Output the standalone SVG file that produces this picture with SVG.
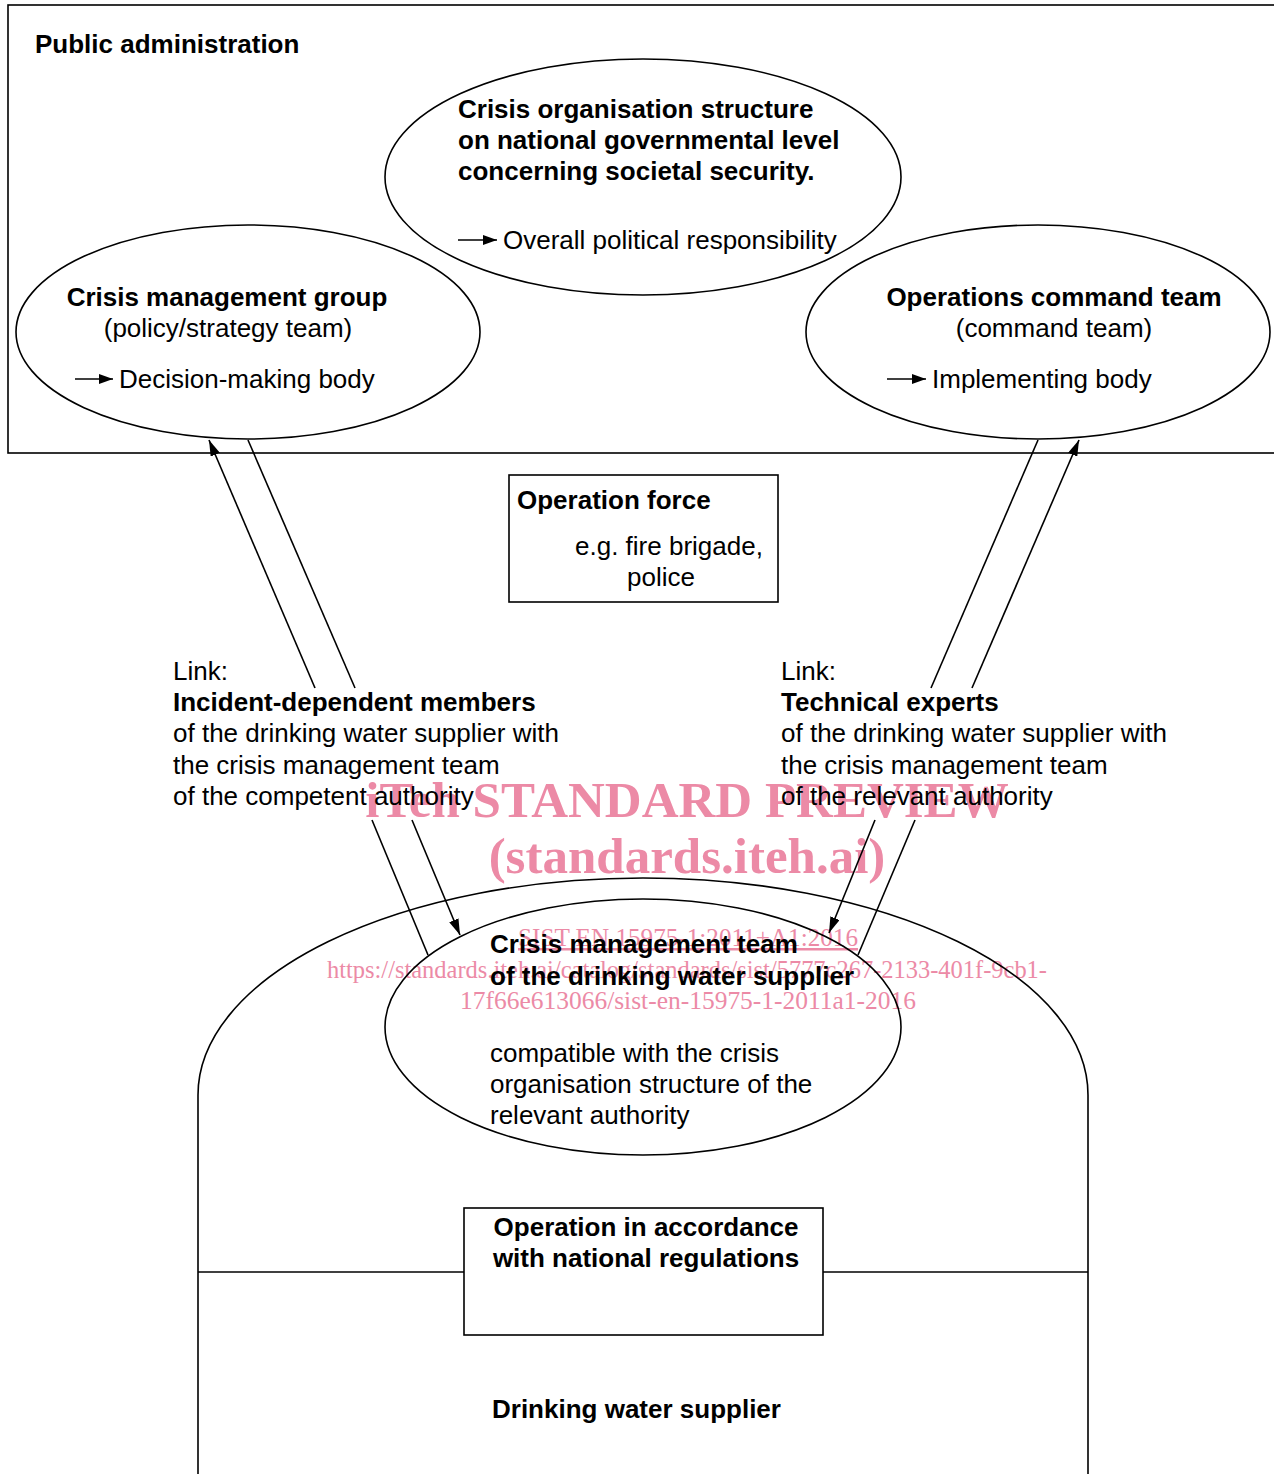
<svg xmlns="http://www.w3.org/2000/svg" width="1274" height="1474" viewBox="0 0 1274 1474">
<defs>
<style>
.s{fill:none;stroke:#000;stroke-width:1.6}
.t{font-family:"Liberation Sans",Arial,sans-serif;font-size:26px;fill:#000}
.b{font-weight:bold}
.m{text-anchor:middle}
.wm{font-family:"Liberation Serif","Times New Roman",serif;fill:#ec8aa6;text-anchor:middle}
</style>
<marker id="ah" viewBox="0 0 16 10" refX="16" refY="5" markerWidth="16" markerHeight="10" markerUnits="userSpaceOnUse" orient="auto">
<path d="M0,0 L16,5 L0,10 z" fill="#000"/>
</marker>
<marker id="sa" viewBox="0 0 14 10" refX="14" refY="5" markerWidth="14" markerHeight="10" markerUnits="userSpaceOnUse" orient="auto">
<path d="M0,0 L14,5 L0,10 z" fill="#000"/>
</marker>
</defs>
<rect width="1274" height="1474" fill="#fff"/>

<g id="watermark">
<text class="wm" x="687" y="817" font-size="51" font-weight="bold">iTeh STANDARD PREVIEW</text>
<text class="wm" x="687" y="873" font-size="51" font-weight="bold">(standards.iteh.ai)</text>
<text class="wm" x="688" y="946" font-size="25" text-decoration="underline" textLength="340" lengthAdjust="spacingAndGlyphs">SIST EN 15975-1:2011+A1:2016</text>
<text class="wm" x="687" y="978" font-size="25" textLength="720" lengthAdjust="spacingAndGlyphs">https://standards.iteh.ai/catalog/standards/sist/5777c267-2133-401f-9cb1-</text>
<text class="wm" x="688" y="1009" font-size="25" textLength="456" lengthAdjust="spacingAndGlyphs">17f66e613066/sist-en-15975-1-2011a1-2016</text>
</g>

<g id="public-administration">
<rect class="s" x="8" y="5" width="1280" height="448"/>
<text class="t b" x="35" y="53">Public administration</text>
</g>

<g id="crisis-organisation">
<ellipse class="s" cx="643" cy="177" rx="258" ry="118"/>
<text class="t b" x="458" y="118">Crisis organisation structure</text>
<text class="t b" x="458" y="149">on national governmental level</text>
<text class="t b" x="458" y="180">concerning societal security.</text>
<line class="s" x1="458" y1="240" x2="497" y2="240" marker-end="url(#sa)"/>
<text class="t" x="503" y="249">Overall political responsibility</text>
</g>

<g id="crisis-management-group">
<ellipse class="s" cx="248" cy="332" rx="232" ry="107"/>
<text class="t b m" x="227" y="306">Crisis management group</text>
<text class="t m" x="228" y="337">(policy/strategy team)</text>
<line class="s" x1="75" y1="379" x2="113" y2="379" marker-end="url(#sa)"/>
<text class="t" x="119" y="388">Decision-making body</text>
</g>

<g id="operations-command-team">
<ellipse class="s" cx="1038" cy="332" rx="232" ry="107"/>
<text class="t b m" x="1054" y="306">Operations command team</text>
<text class="t m" x="1054" y="337">(command team)</text>
<line class="s" x1="887" y1="379" x2="926" y2="379" marker-end="url(#sa)"/>
<text class="t" x="932" y="388">Implementing body</text>
</g>

<g id="operation-force">
<rect class="s" x="509" y="475" width="269" height="127"/>
<text class="t b" x="517" y="509">Operation force</text>
<text class="t" x="575" y="555">e.g. fire brigade,</text>
<text class="t" x="627" y="586">police</text>
</g>

<g id="link-left">
<text class="t" x="173" y="680">Link:</text>
<text class="t b" x="173" y="711">Incident-dependent members</text>
<text class="t" x="173" y="742">of the drinking water supplier with</text>
<text class="t" x="173" y="774">the crisis management team</text>
<text class="t" x="173" y="805">of the competent authority</text>
</g>

<g id="link-right">
<text class="t" x="781" y="680">Link:</text>
<text class="t b" x="781" y="711">Technical experts</text>
<text class="t" x="781" y="742">of the drinking water supplier with</text>
<text class="t" x="781" y="774">the crisis management team</text>
<text class="t" x="781" y="805">of the relevant authority</text>
</g>

<g id="drinking-water-supplier">
<path class="s" d="M198,1474 L198,1095 A445,217 0 0 1 1088,1095 L1088,1474"/>
<line class="s" x1="198" y1="1272" x2="464" y2="1272"/>
<line class="s" x1="823" y1="1272" x2="1088" y2="1272"/>
<text class="t b" x="492" y="1418">Drinking water supplier</text>
</g>

<g id="crisis-management-team">
<ellipse class="s" cx="643" cy="1027" rx="258" ry="128"/>
<text class="t b" x="490" y="953">Crisis management team</text>
<text class="t b" x="490" y="985">of the drinking water supplier</text>
<text class="t" x="490" y="1062">compatible with the crisis</text>
<text class="t" x="490" y="1093">organisation structure of the</text>
<text class="t" x="490" y="1124">relevant authority</text>
</g>

<g id="operation-regulations">
<rect class="s" x="464" y="1208" width="359" height="127"/>
<text class="t b m" x="646" y="1236">Operation in accordance</text>
<text class="t b m" x="646" y="1267">with national regulations</text>
</g>

<g id="connectors">
<line class="s" x1="315" y1="688" x2="209" y2="440" marker-end="url(#ah)"/>
<line class="s" x1="248" y1="440" x2="355" y2="688"/>
<line class="s" x1="372" y1="820" x2="428" y2="955"/>
<line class="s" x1="412" y1="820" x2="460" y2="935" marker-end="url(#ah)"/>
<line class="s" x1="1038" y1="440" x2="931" y2="688"/>
<line class="s" x1="972" y1="688" x2="1079" y2="440" marker-end="url(#ah)"/>
<line class="s" x1="875" y1="820" x2="829" y2="933" marker-end="url(#ah)"/>
<line class="s" x1="915" y1="820" x2="858" y2="955"/>
</g>
</svg>
